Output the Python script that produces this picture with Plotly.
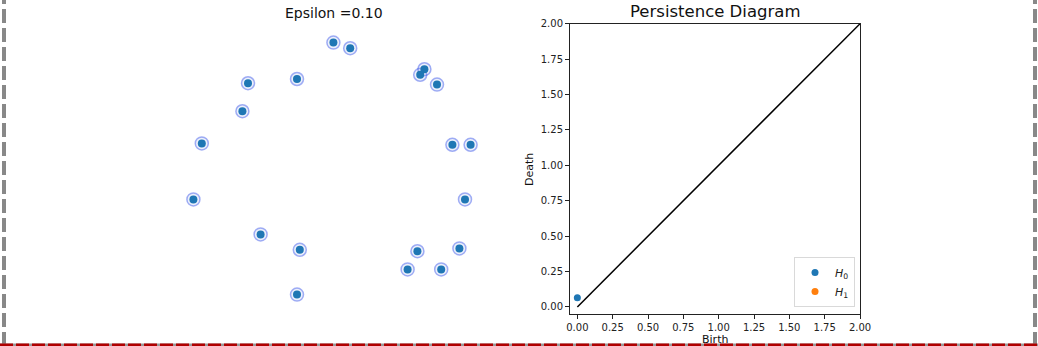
import math
import plotly.graph_objects as go

# ---- data ----
epsilon = 0.10
pts_x = [0.01, 0.13, 0.66, 0.63, 0.75, -0.60, -0.25, -0.64, -0.93, 0.86,
         0.99, -0.99, 0.95, -0.51, -0.23, 0.91, 0.61, 0.54, 0.78, -0.25]
pts_y = [0.91, 0.87, 0.72, 0.68, 0.61, 0.62, 0.65, 0.42, 0.19, 0.18,
         0.18, -0.21, -0.21, -0.46, -0.57, -0.56, -0.58, -0.71, -0.71, -0.89]
h0_birth = [0.0]
h0_death = [0.065]
h1_birth = []
h1_death = []
diag = [0.0, 2.0]
tick_vals = [0.0, 0.25, 0.5, 0.75, 1.0, 1.25, 1.5, 1.75, 2.0]
tick_text = ["0.00", "0.25", "0.50", "0.75", "1.00", "1.25", "1.50", "1.75", "2.00"]

W, H = 1038, 346
BLUE = "#1f77b4"
ORANGE = "#ff7f0e"
FONT = "DejaVu Sans"

fig = go.Figure()

# edges of the Rips complex (pairs closer than epsilon)
for i in range(len(pts_x)):
    for j in range(i + 1, len(pts_x)):
        d = math.hypot(pts_x[i] - pts_x[j], pts_y[i] - pts_y[j])
        if d < epsilon:
            fig.add_trace(go.Scatter(x=[pts_x[i], pts_x[j]], y=[pts_y[i], pts_y[j]],
                                     mode="lines", line=dict(color="#2ca02c", width=1.5),
                                     xaxis="x", yaxis="y", showlegend=False, hoverinfo="skip"))

# epsilon balls
fig.add_trace(go.Scatter(x=pts_x, y=pts_y, mode="markers",
                         marker=dict(size=13, color="rgba(65,105,225,0.10)",
                                     line=dict(color="rgba(70,95,235,0.5)", width=1.5)),
                         xaxis="x", yaxis="y", showlegend=False))
# points
fig.add_trace(go.Scatter(x=pts_x, y=pts_y, mode="markers",
                         marker=dict(size=8, color=BLUE),
                         xaxis="x", yaxis="y", showlegend=False))

# persistence diagram
fig.add_trace(go.Scatter(x=diag, y=diag, mode="lines", line=dict(color="black", width=1.5),
                         xaxis="x2", yaxis="y2", showlegend=False))
fig.add_trace(go.Scatter(x=h0_birth, y=h0_death, mode="markers", name="<i>H</i><sub>0</sub>",
                         marker=dict(size=7, color=BLUE), xaxis="x2", yaxis="y2"))
fig.add_trace(go.Scatter(x=h1_birth if h1_birth else [None], y=h1_death if h1_death else [None],
                         mode="markers", name="<i>H</i><sub>1</sub>",
                         marker=dict(size=7, color=ORANGE), xaxis="x2", yaxis="y2"))

# left panel mapping: 140 px per unit, centre at px (332,170)
scale = 140.0
cx, cy = 332.0, 170.0
left_w = 519.0
x_rng = [(0 - cx) / scale, (left_w - cx) / scale]
y_rng = [(cy - H) / scale, (cy - 0) / scale]

# right panel
ax_l, ax_r, ax_t, ax_b = 570.0, 860.0, 23.7, 314.3
rng2 = [-0.052, 2.0]

ax2 = dict(range=rng2, tickvals=tick_vals, ticktext=tick_text, ticks="outside", ticklen=4,
           tickwidth=1, tickcolor="#222", showline=True, linecolor="#222", linewidth=1,
           mirror=True, showgrid=False, zeroline=False, automargin=False,
           tickfont=dict(family=FONT, size=10, color="#222"))

fig.update_layout(
    width=W, height=H, autosize=False,
    margin=dict(l=0, r=0, t=0, b=0, pad=0, autoexpand=False),
    paper_bgcolor="white", plot_bgcolor="white",
    font=dict(family=FONT, color="#222"),
    xaxis=dict(domain=[0, left_w / W], range=x_rng, visible=False, automargin=False),
    yaxis=dict(domain=[0, 1], range=y_rng, visible=False, automargin=False),
    xaxis2=dict(domain=[ax_l / W, ax_r / W], anchor="y2", **ax2),
    yaxis2=dict(domain=[1 - ax_b / H, 1 - ax_t / H], anchor="x2", **ax2),
    legend=dict(x=855 / W, y=1 - 307 / H, xanchor="right", yanchor="bottom",
                bgcolor="rgba(255,255,255,0.8)", bordercolor="#d9d9d9", borderwidth=1,
                font=dict(family=FONT, size=11, color="#222"), itemwidth=30,
                tracegroupgap=0),
    showlegend=True,
)

annotations = [
    dict(text="Epsilon =0.10", x=334 / W, y=1 - 12.5 / H, font=dict(size=14)),
    dict(text="Persistence Diagram", x=715 / W, y=1 - 11.7 / H, font=dict(size=16.5)),
    dict(text="Death", x=529 / W, y=1 - 170 / H, textangle=-90, font=dict(size=11)),
    dict(text="Birth", x=715 / W, y=1 - 339 / H, font=dict(size=11)),
]
for a in annotations:
    a.update(xref="paper", yref="paper", showarrow=False, xanchor="center", yanchor="middle")
    a["font"].update(family=FONT, color="#111")
fig.update_layout(annotations=annotations)

# page frame (dashed border)
shapes = [
    dict(type="line", xref="paper", yref="paper", x0=4 / W, x1=4 / W, y0=0, y1=1,
         line=dict(color="#888888", width=4, dash="14px,5px")),
    dict(type="line", xref="paper", yref="paper", x0=1035 / W, x1=1035 / W, y0=0, y1=1,
         line=dict(color="#888888", width=4, dash="14px,5px")),
    dict(type="line", xref="paper", yref="paper", x0=0, x1=1, y0=1 / H, y1=1 / H,
         line=dict(color="#999999", width=3)),
    dict(type="line", xref="paper", yref="paper", x0=0, x1=1, y0=1 / H, y1=1 / H,
         line=dict(color="#b00000", width=3, dash="13px,3px")),
]
fig.update_layout(shapes=shapes)

post = ("document.documentElement.style.margin='0';document.documentElement.style.padding='0';"
        "document.documentElement.style.overflow='hidden';"
        "document.body.style.margin='0';document.body.style.padding='0';"
        "document.body.style.overflow='hidden';")

fig.write_html("out.html", config={"displayModeBar": False, "responsive": False},
               post_script=post)
